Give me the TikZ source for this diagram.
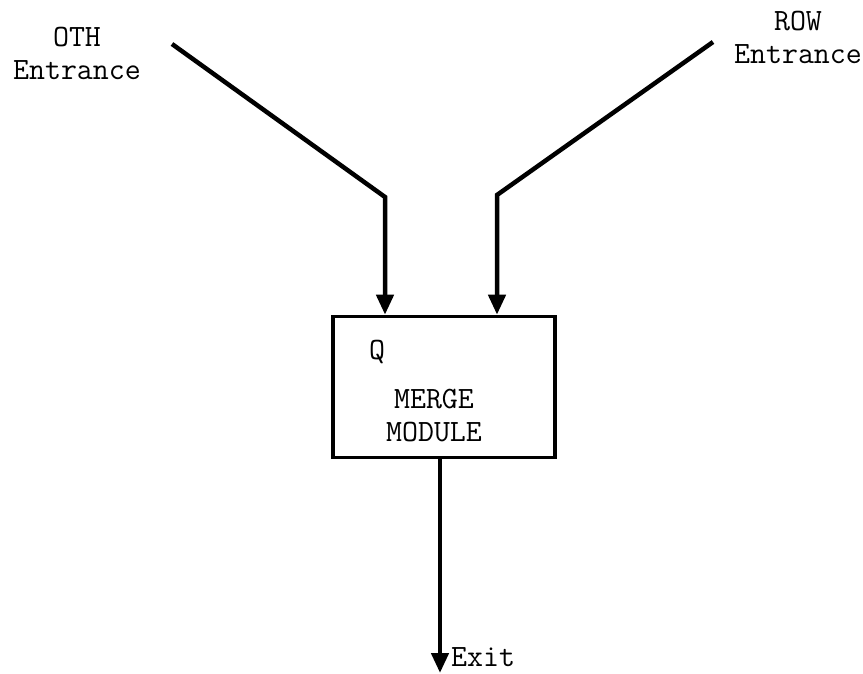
\documentclass[tikz,border=0pt]{standalone}
\usepackage{fontspec}
\usetikzlibrary{arrows.meta}
\begin{document}
\begin{tikzpicture}[x=1pt,y=-1pt,
  flow/.style={line width=4.5pt,line join=miter},
  tip/.style={-{Triangle[length=20pt,width=17pt]}},
  lbl/.style={font=\ttfamily\fontsize{31}{33}\selectfont,inner sep=0pt,align=center},
  modbox/.style={draw,line width=3.6pt,minimum width=222pt,minimum height=141pt,inner sep=0pt}]
\useasboundingbox (0,0) rectangle (863,674);

% merge module
\node[modbox] (merge) at (444,387) {};
\node[lbl,anchor=center] (q) at (377,352) {Q};
\node[lbl,anchor=center] (mtext) at (434,416) {MERGE\\MODULE};

% entrances
\node[lbl] (oth) at (77,53) {OTH\\Entrance};
\node[lbl] (row) at (798,37) {ROW\\Entrance};

\coordinate (othstart) at (172,44);
\coordinate (othbend) at (385,197);
\coordinate (rowstart) at (713,42);
\coordinate (rowbend) at (497,195);
\coordinate (exitend) at (440,673);

\draw[flow,tip] (othstart) -- (othbend) -- (othbend |- merge.north);
\draw[flow,tip] (rowstart) -- (rowbend) -- (rowbend |- merge.north);
\draw[flow,tip] (exitend |- merge.south) -- (exitend);

\node[lbl,anchor=west] (exit) at (451,657) {Exit};
\end{tikzpicture}
\end{document}
